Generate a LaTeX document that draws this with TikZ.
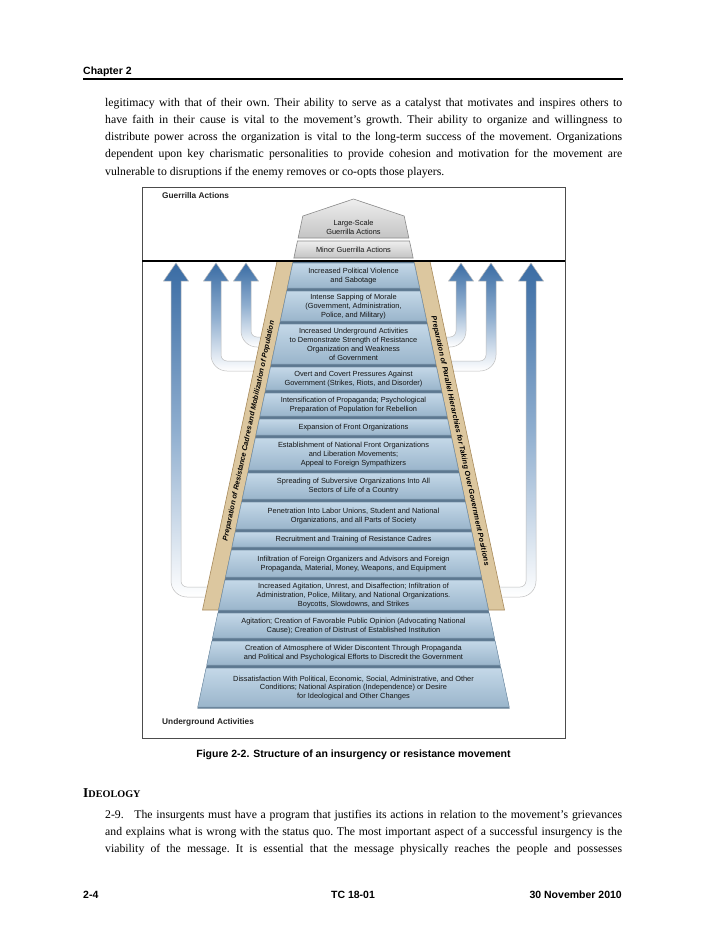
\documentclass[tikz,border=0pt]{standalone}
\usepackage{fontspec}
\setmainfont{Liberation Serif}
\newfontfamily\arialf{Liberation Sans}
\definecolor{arrowblue}{HTML}{3A6CA4}
\definecolor{arrowmid}{HTML}{8FAECF}
\definecolor{rowtop}{HTML}{C4D8E8}
\definecolor{rowbot}{HTML}{9AB5CB}
\definecolor{rowline}{HTML}{7893A9}
\definecolor{rowgap}{HTML}{5D7890}
\definecolor{graytop}{HTML}{EEEEEE}
\definecolor{graybot}{HTML}{C4C4C4}
\definecolor{graygap}{HTML}{8A8A8A}
\definecolor{tanfill}{HTML}{DCC79F}
\definecolor{tanline}{HTML}{A88B5D}
\newcommand\LArrowShape[3]{%
  \shade[arrowsh] (#1,263) -- (#1+12.5,281) -- (#1+5,281) -- (#1+5,#2-11)
    arc[start angle=180,end angle=90,radius=6] -- (#3,#2-5) -- (#3,#2+5) -- (#1+11,#2+5)
    arc[start angle=90,end angle=180,radius=16] -- (#1-5,281) -- (#1-12.5,281) -- cycle;}
\newcommand\RArrowShape[3]{%
  \shade[arrowsh] (#1,263) -- (#1+12.5,281) -- (#1+5,281) -- (#1+5,#2-11)
    arc[start angle=0,end angle=90,radius=16] -- (#3,#2+5) -- (#3,#2-5) -- (#1-11,#2-5)
    arc[start angle=90,end angle=0,radius=6] -- (#1-5,281) -- (#1-12.5,281) -- cycle;}
\begin{document}
\begin{tikzpicture}[x=1pt,y=-1pt,
  bodytext/.style={anchor=base west,inner sep=0,text width=517pt,align=justify,
    font=\fontsize{11.75}{17.25}\selectfont},
  headsans/.style={inner sep=0,font=\arialf\bfseries\fontsize{10.5}{12}\selectfont},
  figlabel/.style={anchor=base west,inner sep=0,font=\arialf\bfseries\fontsize{8.3}{10}\selectfont,text=black!85},
  rowtext/.style={inner sep=0,align=center,font=\arialf\fontsize{7.4}{8.9}\selectfont,text=black!92},
  rowshade/.style={top color=rowtop,bottom color=rowbot,draw=rowline,line width=0.5},
  grayshade/.style={top color=graytop,bottom color=graybot,draw=graygap,line width=0.6},
  bandtext/.style={inner sep=0,font=\arialf\bfseries\itshape\fontsize{7.3}{8}\selectfont},
  arrowsh/.style={top color=arrowblue,bottom color=white,middle color=arrowmid,draw=black!25,line width=0.5},
  tanband/.style={fill=tanfill,draw=tanline,line width=0.6}]
\useasboundingbox (0,0) rectangle (728,943);
\fill[white] (0,0) rectangle (728,943);

% header
\node[headsans,anchor=base west] (chap) at (83,74) {Chapter 2};
\draw[line width=1.2] (83,79) -- (623,79);

\node[bodytext] (para1) at (105,106) {\frenchspacing\tolerance=9999\hbadness=10000
legitimacy with that of their own. Their ability to serve as a catalyst that motivates and inspires others to\linebreak
have faith in their cause is vital to the movement’s growth. Their ability to organize and willingness to\linebreak
distribute power across the organization is vital to the long-term success of the movement. Organizations\linebreak
dependent upon key charismatic personalities to provide cohesion and motivation for the movement are\linebreak
vulnerable to disruptions if the enemy removes or co-opts those players.};

% figure frame
\draw[line width=0.9,draw=black!70] (142,187) rectangle (565,738);
\node[figlabel] (ga) at (162,198) {Guerrilla Actions};
\node[figlabel] (ua) at (162,724) {Underground Activities};

% arrows
\LArrowShape{246}{342}{263}
\LArrowShape{216}{366}{258}
\LArrowShape{176}{592}{210}
\RArrowShape{461}{342}{444}
\RArrowShape{491}{366}{449}
\RArrowShape{531}{592}{497}

% tan bands
\draw[tanband] (277,261.5) -- (293,261.5) -- (218.5,610) -- (202.5,610) -- cycle;
\draw[tanband] (414,261.5) -- (430,261.5) -- (504.5,610) -- (488.5,610) -- cycle;
\node[bandtext,rotate=77.92] (bandL) at (249,431) {Preparation of Resistance Cadres and Mobilization of Population};
\node[bandtext,rotate=-77.92] (bandR) at (460,441) {Preparation of Parallel Hierarchies for Taking Over Government Positions};

% pyramid background (gaps)
\fill[rowgap] ({293-0.214*(261.5-262)},261.5) -- ({414+0.214*(261.5-262)},261.5)
  -- ({414+0.214*(708.5-262)},708.5) -- ({293-0.214*(708.5-262)},708.5) -- cycle;

% top gray pieces
\shade[grayshade] (353.5,199) -- ({414+0.214*(216-262)},216) -- ({414+0.214*(238-262)},238)
  -- ({293-0.214*(238-262)},238) -- ({293-0.214*(216-262)},216) -- cycle;
\node[rowtext] (top1) at (353.5,227) {Large-Scale\\Guerrilla Actions};
\shade[grayshade] ({293-0.214*(241-262)},241) -- ({414+0.214*(241-262)},241)
  -- ({414+0.214*(258-262)},258) -- ({293-0.214*(258-262)},258) -- cycle;
\node[rowtext] (top2) at (353.5,249.5) {Minor Guerrilla Actions};

% rows
\foreach \t/\b/\txt [count=\i] in {
 263/288/{Increased Political Violence\\and Sabotage},
 291/321/{Intense Sapping of Morale\\(Government, Administration,\\Police, and Military)},
 324/364/{Increased Underground Activities\\to Demonstrate Strength of Resistance\\Organization and Weakness\\of Government},
 367/390/{Overt and Covert Pressures Against\\Government (Strikes, Riots, and Disorder)},
 393/416/{Intensification of Propaganda; Psychological\\Preparation of Population for Rebellion},
 419/435/{Expansion of Front Organizations},
 438/470/{Establishment of National Front Organizations\\and Liberation Movements;\\Appeal to Foreign Sympathizers},
 473/499/{Spreading of Subversive Organizations Into All\\Sectors of Life of a Country},
 502/529/{Penetration Into Labor Unions, Student and National\\Organizations, and all Parts of Society},
 532/547/{Recruitment and Training of Resistance Cadres},
 550/577/{Infiltration of Foreign Organizers and Advisors and Foreign\\Propaganda, Material, Money, Weapons, and Equipment},
 580/610/{Increased Agitation, Unrest, and Disaffection; Infiltration of\\Administration, Police, Military, and National Organizations.\\Boycotts, Slowdowns, and Strikes},
 613/638/{Agitation; Creation of Favorable Public Opinion (Advocating National\\Cause); Creation of Distrust of Established Institution},
 641/665/{Creation of Atmosphere of Wider Discontent Through Propaganda\\and Political and Psychological Efforts to Discredit the Government},
 668/707/{Dissatisfaction With Political, Economic, Social, Administrative, and Other\\Conditions; National Aspiration (Independence) or Desire\\for Ideological and Other Changes}}
{
  \shade[rowshade] ({293-0.214*(\t-262)},\t) -- ({414+0.214*(\t-262)},\t)
    -- ({414+0.214*(\b-262)},\b) -- ({293-0.214*(\b-262)},\b) -- cycle;
  \node[rowtext] (row\i) at (353.5,{(\t+\b)/2+0.5}) {\txt};
}

% separating line
\draw[line width=2] (142,260.5) -- (565,260.5);

% caption
\node[headsans] (cap) at (353.5,755) {Figure 2-2. Structure of an insurgency or resistance movement};

% ideology
\node[anchor=base west,inner sep=0] (ideo) at (83,797)
  {\bfseries\fontsize{13.5}{14}\selectfont I\fontsize{10.2}{12}\selectfont DEOLOGY};
\node[bodytext] (para2) at (105,818) {{\frenchspacing\tolerance=9999\hbadness=10000\parfillskip=0pt\relax
2-9.\hspace{0.9em}The insurgents must have a program that justifies its actions in relation to the movement’s grievances\linebreak
and explains what is wrong with the status quo. The most important aspect of a successful insurgency is the\linebreak
viability of the message. It is essential that the message physically reaches the people and possesses\par}};

% footer
\node[headsans,anchor=base west] (f1) at (83,898) {2-4};
\node[headsans,anchor=base] (f2) at (353,898) {TC 18-01};
\node[headsans,anchor=base east] (f3) at (622,898) {30 November 2010};
\end{tikzpicture}
\end{document}
